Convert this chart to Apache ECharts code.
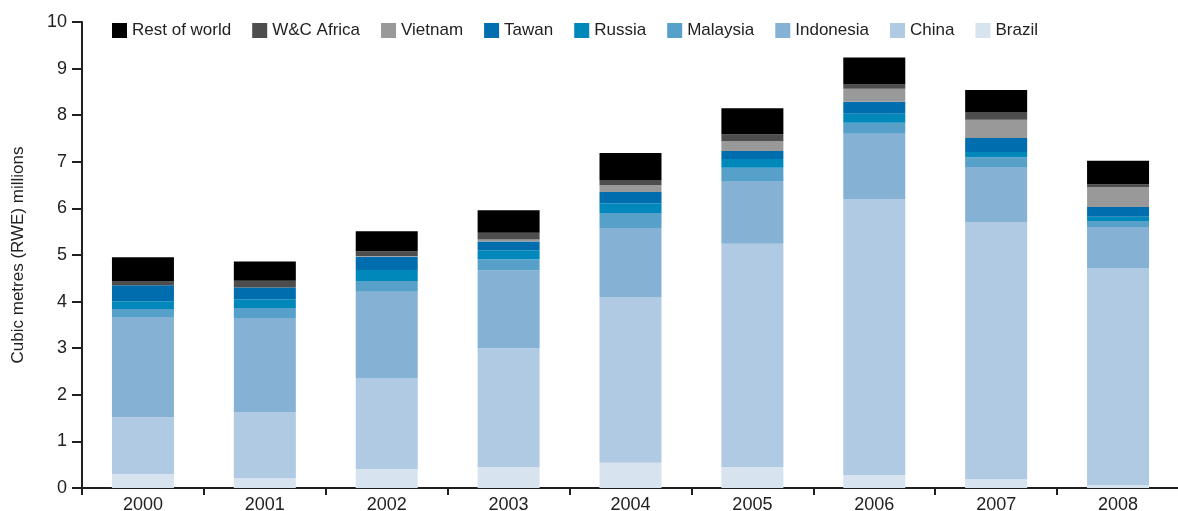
<!DOCTYPE html>
<html>
<head>
<meta charset="utf-8">
<script src="https://cdn.jsdelivr.net/npm/echarts@6/dist/echarts.min.js"></script>
<style>
html,body{margin:0;padding:0;background:#fff;}
#chart{width:1178px;height:511px;}
</style>
</head>
<body>
<div id="chart"></div>
<script>
var years = ['2000','2001','2002','2003','2004','2005','2006','2007','2008'];
var yTicks = [0,1,2,3,4,5,6,7,8,9,10];
var brazil    = [0.30, 0.21, 0.41, 0.45, 0.54, 0.45, 0.28, 0.19, 0.06];
var china     = [1.22, 1.42, 1.95, 2.55, 3.56, 4.79, 5.92, 5.52, 4.66];
var indonesia = [2.15, 2.02, 1.85, 1.67, 1.48, 1.35, 1.40, 1.18, 0.88];
var malaysia  = [0.17, 0.21, 0.23, 0.24, 0.32, 0.28, 0.24, 0.21, 0.13];
var russia    = [0.17, 0.19, 0.24, 0.19, 0.21, 0.19, 0.19, 0.11, 0.09];
var tawan     = [0.34, 0.25, 0.28, 0.19, 0.24, 0.17, 0.26, 0.30, 0.21];
var vietnam   = [0.00, 0.00, 0.02, 0.04, 0.15, 0.21, 0.28, 0.39, 0.43];
var wcAfrica  = [0.08, 0.15, 0.10, 0.15, 0.11, 0.15, 0.09, 0.17, 0.06];
var restWorld = [0.52, 0.41, 0.43, 0.48, 0.58, 0.56, 0.58, 0.47, 0.50];

var seriesDefs = [
  {name:'Brazil', data:brazil, color:'#d7e3ef'},
  {name:'China', data:china, color:'#b0cae3'},
  {name:'Indonesia', data:indonesia, color:'#84b1d4'},
  {name:'Malaysia', data:malaysia, color:'#57a0ca'},
  {name:'Russia', data:russia, color:'#0088bb'},
  {name:'Tawan', data:tawan, color:'#006eae'},
  {name:'Vietnam', data:vietnam, color:'#999999'},
  {name:'W&C Africa', data:wcAfrica, color:'#4d4d4d'},
  {name:'Rest of world', data:restWorld, color:'#000000'}
];
var legendOrder = ['Rest of world','W&C Africa','Vietnam','Tawan','Russia','Malaysia','Indonesia','China','Brazil'];

var chart = echarts.init(document.getElementById('chart'), null, {renderer:'canvas'});
var font = '"Liberation Sans", Arial, sans-serif';
chart.setOption({
  animation:false,
  backgroundColor:'#ffffff',
  textStyle:{fontFamily:font},
  legend:{
    data:legendOrder,
    left:112, top:22, padding:0,
    itemWidth:15, itemHeight:15, itemGap:21,
    icon:'rect',
    textStyle:{fontSize:17, color:'#222', fontFamily:font}
  },
  grid:{left:82, width:1097, top:22, bottom:23, containLabel:false, outerBoundsMode:'none'},
  xAxis:{
    type:'category',
    data:years,
    axisLine:{lineStyle:{color:'#231f20', width:2}},
    axisTick:{show:true, alignWithLabel:false, length:7, lineStyle:{color:'#231f20', width:2}},
    axisLabel:{fontSize:18, color:'#222', margin:8, fontFamily:font}
  },
  yAxis:{
    type:'value',
    min:yTicks[0], max:yTicks[yTicks.length-1], interval:1,
    name:'Cubic metres (RWE) millions',
    nameLocation:'middle', nameGap:55,
    nameTextStyle:{fontSize:17, color:'#222', fontFamily:font},
    axisLine:{show:true, lineStyle:{color:'#231f20', width:2}},
    axisTick:{show:true, length:10, lineStyle:{color:'#231f20', width:2}},
    axisLabel:{fontSize:18, color:'#222', margin:15, fontFamily:font},
    splitLine:{show:false}
  },
  series:seriesDefs.map(function(s){
    return {
      name:s.name, type:'bar', stack:'total', data:s.data,
      barWidth:62,
      itemStyle:{color:s.color},
      emphasis:{disabled:true}
    };
  })
});
</script>
</body>
</html>
